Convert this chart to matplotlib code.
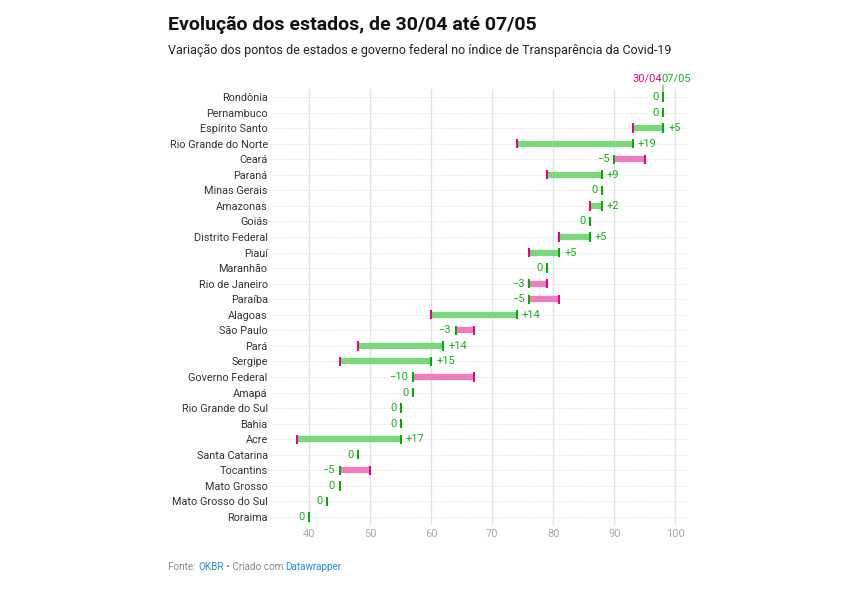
import matplotlib
matplotlib.use("Agg")
import matplotlib.pyplot as plt

plt.rcParams['font.family'] = ['Roboto', 'DejaVu Sans']

# data (30/04 -> 07/05)
states = ["Rondônia", "Pernambuco", "Espírito Santo", "Rio Grande do Norte", "Ceará",
          "Paraná", "Minas Gerais", "Amazonas", "Goiás", "Distrito Federal", "Piauí",
          "Maranhão", "Rio de Janeiro", "Paraíba", "Alagoas", "São Paulo", "Pará",
          "Sergipe", "Governo Federal", "Amapá", "Rio Grande do Sul", "Bahia", "Acre",
          "Santa Catarina", "Tocantins", "Mato Grosso", "Mato Grosso do Sul", "Roraima"]
start = [98, 98, 93, 74, 95, 79, 88, 86, 86, 81, 76, 79, 79, 81, 60, 67, 48, 45, 67,
         57, 55, 55, 38, 48, 50, 45, 43, 40]
end = [98, 98, 98, 93, 90, 88, 88, 88, 86, 86, 81, 79, 76, 76, 74, 64, 62, 60, 57,
       57, 55, 55, 55, 48, 45, 45, 43, 40]
xticks = [40, 50, 60, 70, 80, 90, 100]

PINK = "#e0067f"
PINK_BAR = "#f07cc0"
GREEN = "#0aa80a"
GREEN_BAR = "#7ad77a"
LABEL_GREEN = "#16b016"

W, H = 848, 589
fig = plt.figure(figsize=(W / 100, H / 100), dpi=100)
left, right, top, bottom = 273, 686, 89.2, 524.8
ax = fig.add_axes([left / W, 1 - bottom / H, (right - left) / W, (bottom - top) / H])

n = len(states)
ax.set_xlim(34.1, 101.75)
ax.set_ylim(n - 0.5, -0.5)

for x in xticks:
    ax.axvline(x, color="#e3e3e3", lw=1, zorder=0)
for i in range(n):
    ax.axhline(i, color="#d6d6d6", lw=0.7, ls=(0, (1, 2)), zorder=0)

for i, (s, e) in enumerate(zip(start, end)):
    d = e - s
    if d != 0:
        ax.plot([s, e], [i, i], color=GREEN_BAR if d > 0 else PINK_BAR,
                lw=4.5, solid_capstyle="butt", zorder=2)
        ax.vlines(s, i - 0.3, i + 0.3, color=PINK, lw=1.5, zorder=3)
    ax.vlines(e, i - 0.3, i + 0.3, color=GREEN, lw=1.5, zorder=4)
    if d > 0:
        ax.annotate(f"+{d}", (e, i), xytext=(3.6, 0), textcoords="offset points",
                    ha="left", va="center", fontsize=8, color=LABEL_GREEN)
    elif d < 0:
        ax.annotate(f"\u2212{-d}", (e, i), xytext=(-3.2, 0), textcoords="offset points",
                    ha="right", va="center", fontsize=8, color=LABEL_GREEN)
    else:
        ax.annotate("0", (e, i), xytext=(-3.2, 0), textcoords="offset points",
                    ha="right", va="center", fontsize=8, color=LABEL_GREEN)

# header markers above the first row
ax.vlines(start[0], -0.75, -0.3, color="#bbbbbb", lw=1.5, clip_on=False)
ax.text(start[0] - 0.1, -1.2, "30/04", ha="right", va="center", fontsize=8, color=PINK)
ax.text(end[0] - 0.25, -1.2, "07/05", ha="left", va="center", fontsize=8, color=LABEL_GREEN)

ax.set_yticks(range(n))
ax.set_yticklabels(states, fontsize=7.8, color="#333333")
ax.set_xticks(xticks)
ax.set_xticklabels([str(x) for x in xticks], fontsize=8, color="#aaaaaa")
ax.tick_params(length=0, axis="y", pad=3.8)
ax.tick_params(length=0, axis="x", pad=3)
for sp in ax.spines.values():
    sp.set_visible(False)

fig.text(168 / W, 1 - 24.5 / H, "Evolução dos estados, de 30/04 até 07/05",
         fontsize=14, fontweight="bold", color="#111111", va="center", ha="left")
fig.text(168 / W, 1 - 50 / H,
         "Variação dos pontos de estados e governo federal no índice de Transparência da Covid-19",
         fontsize=9, color="#222222", va="center", ha="left")

# footer with coloured parts
parts = [("Fonte: ", "#888888"), ("OKBR", "#1d8fd6"), (" • Criado com ", "#888888"),
         ("Datawrapper", "#1d8fd6")]
renderer = fig.canvas.get_renderer()
xpos = 168
for txt, col in parts:
    t = fig.text(xpos / W, 1 - 567.5 / H, txt, fontsize=7.1, color=col, va="center", ha="left")
    xpos += t.get_window_extent(renderer).width

fig.savefig("out.png", dpi=100)
